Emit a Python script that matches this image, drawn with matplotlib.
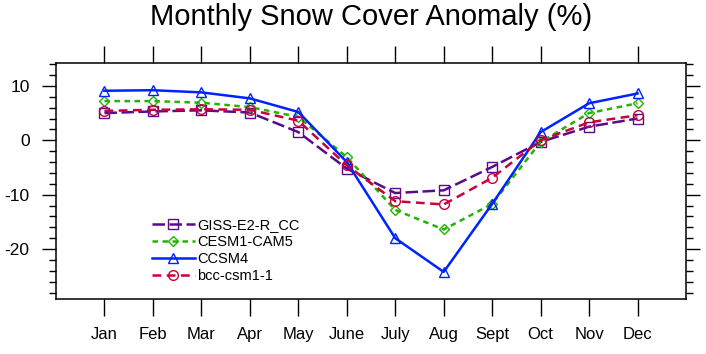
#!/usr/bin/env python3

import numpy as np
import matplotlib
matplotlib.use("Agg")
import matplotlib.pyplot as plt
from matplotlib.ticker import MultipleLocator

# ...Monthly anomalies (%)
months = ["Jan", "Feb", "Mar", "Apr", "May", "June",
          "July", "Aug", "Sept", "Oct", "Nov", "Dec"]

giss = [5.0, 5.3, 5.5, 5.1, 1.5, -5.2, -9.7, -9.2, -4.9, -0.3, 2.5, 4.0]
cesm = [7.2, 7.2, 6.9, 6.1, 4.3, -3.1, -12.8, -16.4, -11.7, -0.3, 5.0, 6.8]
ccsm = [9.1, 9.2, 8.8, 7.7, 5.2, -4.0, -18.0, -24.2, -11.7, 1.5, 6.8, 8.6]
bcc = [5.4, 5.6, 5.7, 5.6, 3.6, -4.6, -11.2, -11.8, -6.9, 0.0, 3.3, 4.6]

plt.rcParams["font.family"] = ["Liberation Sans", "DejaVu Sans"]
plt.rcParams["axes.unicode_minus"] = False

fig = plt.figure(figsize=(7.06, 3.54), dpi=100)
ax = fig.add_axes([0.0793, 0.155, 0.8924, 0.667])

x = np.arange(1, len(months) + 1)

series = [
    ("GISS-E2-R_CC", giss, "#5a0a8c", "s", 7, (0, (5, 1.8))),
    ("CESM1-CAM5", cesm, "#22b400", "D", 5, (0, (2.2, 1.8))),
    ("CCSM4", ccsm, "#0022ff", "^", 7, "-"),
    ("bcc-csm1-1", bcc, "#c8003c", "o", 7, (0, (3.5, 2.2))),
]

for name, vals, color, marker, ms, ls in series:
    ax.plot(x, vals, color=color, linestyle=ls, linewidth=1.8,
            marker=marker, markersize=ms, markerfacecolor="none",
            markeredgecolor=color, markeredgewidth=1.0, label=name)

ax.set_xlim(0, 13)
ax.set_ylim(-29.2, 14.2)

ax.set_xticks(x)
ax.set_xticklabels(months)
ax.yaxis.set_major_locator(MultipleLocator(10))
ax.yaxis.set_minor_locator(MultipleLocator(2))

ax.tick_params(axis="x", which="major", direction="out", length=12,
               width=1.0, pad=8, labelsize=12, top=True)
ax.tick_params(axis="y", which="major", direction="out", length=10,
               width=1.0, pad=9, labelsize=12.5, right=True)
ax.tick_params(axis="y", which="minor", direction="out", length=5,
               width=1.0, right=True)

for sp in ax.spines.values():
    sp.set_linewidth(1.1)

# ...Title placed by hand, centred over the plot box
fig.text(0.0793 + 0.8924 / 2, 1 - 25 / 354, "Monthly Snow Cover Anomaly (%)",
         fontsize=21, ha="center", va="baseline")

leg = ax.legend(loc="upper left", bbox_to_anchor=(0.152, 0.345),
                frameon=False, handlelength=2.95, handletextpad=0.15,
                labelspacing=0.22, borderaxespad=0, borderpad=0,
                prop={"family": ["Liberation Sans Narrow", "Liberation Sans"],
                      "size": 10.5})

fig.savefig("out.png", dpi=100)
